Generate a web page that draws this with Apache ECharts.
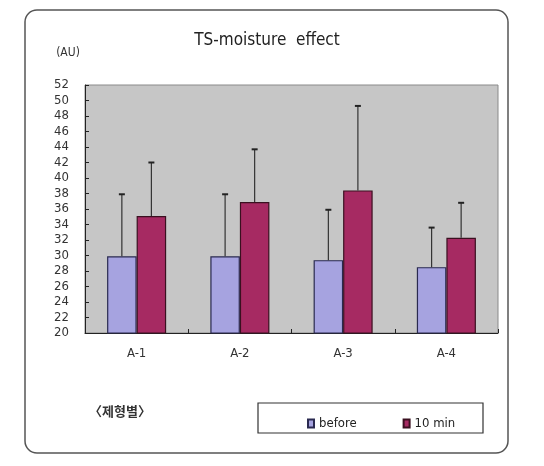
<!DOCTYPE html>
<html>
<head>
<meta charset="utf-8">
<script src="https://cdn.jsdelivr.net/npm/echarts@6/dist/echarts.min.js"></script>
<style>html,body{margin:0;padding:0;background:#fff;}#c{width:544px;height:466px;}</style>
</head>
<body>
<div id="c"></div>
<script>
const categories = ['A-1', 'A-2', 'A-3', 'A-4'];
const seriesNames = ['before', '10 min'];
const beforeVals = [29.9, 29.9, 29.4, 28.5];
const beforeUpper = [37.9, 37.9, 35.9, 33.6];
const tenVals = [35.1, 36.9, 38.4, 32.3];
const tenUpper = [42.0, 43.7, 49.3, 36.8];
const yMin = 20, yMax = 52, yStep = 2;

const FONT = "'Liberation Sans Narrow','DejaVu Sans Condensed','Liberation Sans',sans-serif";
const BAR_FRAC = 0.286;

function errSeries(vals, upper, sign) {
  return {
    type: 'custom',
    silent: true,
    z: 5,
    data: vals.map((v, i) => [i, v, upper[i]]),
    renderItem: function (params, api) {
      const idx = api.value(0);
      const base = api.coord([idx, api.value(1)]);
      const top = api.coord([idx, api.value(2)]);
      const band = api.size([1, 0])[0];
      const w = band * BAR_FRAC;
      const x = base[0] + sign * w / 2;
      const style = { stroke: '#333', lineWidth: 1.2 };
      return {
        type: 'group',
        children: [
          { type: 'line', shape: { x1: x, y1: base[1], x2: x, y2: top[1] }, style: style },
          { type: 'line', shape: { x1: x - 3, y1: top[1], x2: x + 3, y2: top[1] }, style: { stroke: '#222', lineWidth: 2 } }
        ]
      };
    }
  };
}

const chart = echarts.init(document.getElementById('c'));
chart.setOption({
  animation: false,
  backgroundColor: '#fff',
  grid: { left: 85, right: 46, top: 85, bottom: 133, show: true, backgroundColor: '#c6c6c6', borderColor: '#8a8a8a', borderWidth: 1 },
  xAxis: {
    type: 'category',
    data: categories,
    axisLine: { lineStyle: { color: '#222', width: 1 } },
    axisTick: { show: true, inside: true, length: 4, lineStyle: { color: '#222' } },
    axisLabel: { color: '#333', fontSize: 13, fontFamily: FONT, margin: 14 }
  },
  yAxis: {
    type: 'value',
    min: yMin, max: yMax, interval: yStep,
    splitLine: { show: false },
    axisLine: { show: true, lineStyle: { color: '#222', width: 1 } },
    axisTick: { show: true, inside: true, length: 4, lineStyle: { color: '#222' } },
    axisLabel: { color: '#333', fontSize: 13, fontFamily: FONT, margin: 16 }
  },
  legend: {
    left: 302, top: 412,
    itemWidth: 6, itemHeight: 8, itemGap: 46,
    textStyle: { color: '#222', fontSize: 13, fontFamily: FONT, padding: [4, 0, 0, 0] },
    data: seriesNames.map(n => ({ name: n, icon: 'rect' }))
  },
  graphic: [
    { type: 'rect', z: -10, shape: { x: 25, y: 10, width: 483, height: 443, r: 12 }, style: { fill: 'none', stroke: '#555', lineWidth: 1.5 } },
    { type: 'text', x: 267, y: 41, style: { text: 'TS-moisture  effect', fill: '#222', font: "17px 'Liberation Sans Narrow','DejaVu Sans Condensed',sans-serif", textAlign: 'center', textVerticalAlign: 'middle' } },
    { type: 'text', x: 68, y: 53, style: { text: '(AU)', fill: '#333', font: "12px 'Liberation Sans Narrow','DejaVu Sans Condensed',sans-serif", textAlign: 'center', textVerticalAlign: 'middle' } },
    { type: 'text', x: 120, y: 411, style: { text: '〈제형별〉', fill: '#333', font: "bold 13px 'Noto Sans CJK KR',sans-serif", textAlign: 'center', textVerticalAlign: 'middle' } },
    { type: 'rect', shape: { x: 258, y: 403, width: 225, height: 30 }, style: { fill: '#fff', stroke: '#333', lineWidth: 1.2 } }
  ],
  series: [
    {
      name: seriesNames[0], type: 'bar', data: beforeVals,
      barWidth: (BAR_FRAC * 100) + '%', barGap: '0%',
      itemStyle: { color: '#a6a3e0', borderColor: '#2a2a50', borderWidth: 1.2 }
    },
    {
      name: seriesNames[1], type: 'bar', data: tenVals,
      barWidth: (BAR_FRAC * 100) + '%', barGap: '0%',
      itemStyle: { color: '#a62a62', borderColor: '#3a1020', borderWidth: 1.2 }
    },
    errSeries(beforeVals, beforeUpper, -1),
    errSeries(tenVals, tenUpper, 1)
  ]
});
</script>
</body>
</html>
